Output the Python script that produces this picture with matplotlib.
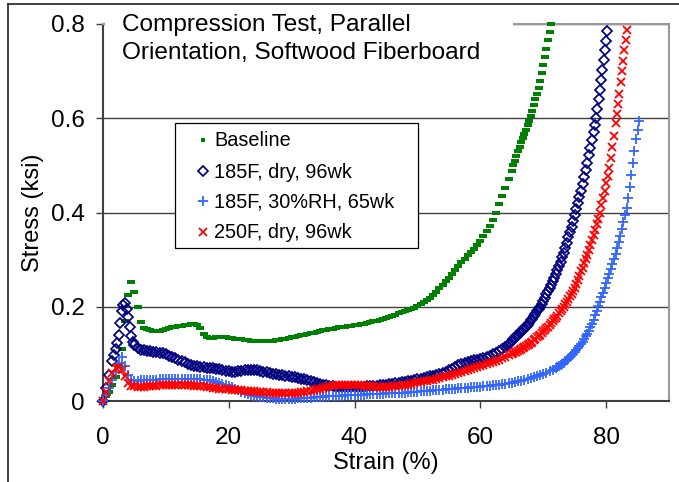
import matplotlib
matplotlib.use('Agg')
import matplotlib.pyplot as plt
from matplotlib.path import Path
from matplotlib.lines import Line2D
from matplotlib.patches import Rectangle

plt.rcParams['font.family'] = ['Liberation Sans', 'DejaVu Sans']

# ---------------- data (strain %, stress ksi) ----------------
base_strain = [0, 0.5, 1, 1.5, 2, 2.5, 3, 3.5, 4, 4.5,
               5, 5.5, 6, 6.5, 7, 7.5, 8, 8.5, 9, 9.5,
               10, 10.5, 11, 11.5, 12, 12.5, 13, 13.5, 14, 14.5,
               15, 15.5, 16, 16.5, 17, 17.5, 18, 18.5, 19, 19.5,
               20, 20.5, 21, 21.5, 22, 22.5, 23, 23.5, 24, 24.5,
               25, 25.5, 26, 26.5, 27, 27.5, 28, 28.5, 29, 29.5,
               30, 30.5, 31, 31.5, 32, 32.5, 33, 33.5, 34, 34.5,
               35, 35.5, 36, 36.5, 37, 37.5, 38, 38.5, 39, 39.5,
               40, 40.5, 41, 41.5, 42, 42.5, 43, 43.5, 44, 44.5,
               45, 45.5, 46, 46.5, 47, 47.5, 48, 48.5, 49, 49.5,
               50, 50.5, 51, 51.5, 52, 52.5, 53, 53.5, 54, 54.5,
               55, 55.5, 56, 56.5, 57, 57.5, 58, 58.5, 59, 59.5,
               60, 60.5, 61, 61.5, 62, 62.5, 63, 63.5, 64, 64.5,
               65, 65.25, 65.5, 65.75, 66, 66.25, 66.5, 66.75, 67, 67.25,
               67.5, 67.75, 68, 68.25, 68.5, 68.75, 69, 69.25, 69.5, 69.75,
               70, 70.25, 70.5, 70.75, 71, 71.25]
base_stress = [0.0, 0.010, 0.020, 0.035, 0.050, 0.075, 0.11, 0.17, 0.225, 0.253,
               0.232, 0.20, 0.168, 0.155, 0.152, 0.150, 0.149, 0.148, 0.148, 0.150,
               0.152, 0.154, 0.156, 0.158, 0.160, 0.160, 0.161, 0.162, 0.163, 0.163,
               0.162, 0.155, 0.142, 0.136, 0.134, 0.134, 0.135, 0.136, 0.136, 0.135,
               0.134, 0.133, 0.132, 0.131, 0.131, 0.130, 0.129, 0.128, 0.128, 0.127,
               0.127, 0.127, 0.127, 0.127, 0.128, 0.129, 0.130, 0.131, 0.132, 0.133,
               0.135, 0.136, 0.138, 0.139, 0.141, 0.142, 0.144, 0.145, 0.147, 0.148,
               0.150, 0.151, 0.152, 0.153, 0.155, 0.156, 0.157, 0.158, 0.159, 0.160,
               0.161, 0.162, 0.163, 0.164, 0.166, 0.167, 0.169, 0.170, 0.172, 0.174,
               0.176, 0.178, 0.181, 0.183, 0.186, 0.188, 0.191, 0.193, 0.196, 0.198,
               0.201, 0.205, 0.210, 0.214, 0.219, 0.225, 0.232, 0.239, 0.247, 0.254,
               0.262, 0.270, 0.278, 0.286, 0.294, 0.302, 0.310, 0.316, 0.323, 0.331,
               0.340, 0.350, 0.360, 0.372, 0.385, 0.400, 0.418, 0.435, 0.453, 0.471,
               0.489, 0.500, 0.510, 0.520, 0.530, 0.540, 0.550, 0.558, 0.567, 0.576,
               0.586, 0.595, 0.605, 0.616, 0.628, 0.640, 0.652, 0.664, 0.678, 0.695,
               0.712, 0.730, 0.748, 0.766, 0.784, 0.800]

dry185_strain = [0, 0.5, 1, 1.5, 1.75, 2, 2.25, 2.5, 2.75, 3,
                 3.25, 3.5, 3.75, 4, 4.25, 4.5, 4.75, 5, 5.5, 6,
                 6.5, 7, 7.5, 8, 8.5, 9, 9.5, 10, 10.5, 11,
                 11.5, 12, 12.5, 13, 13.5, 14, 14.5, 15, 15.5, 16,
                 16.5, 17, 17.5, 18, 18.5, 19, 19.5, 20, 20.5, 21,
                 21.5, 22, 22.5, 23, 23.5, 24, 24.5, 25, 25.5, 26,
                 26.5, 27, 27.5, 28, 28.5, 29, 29.5, 30, 30.5, 31,
                 31.5, 32, 32.5, 33, 33.5, 34, 34.5, 35, 35.5, 36,
                 36.5, 37, 37.5, 38, 38.5, 39, 39.5, 40, 40.5, 41,
                 41.5, 42, 42.5, 43, 43.5, 44, 44.5, 45, 45.5, 46,
                 46.5, 47, 47.5, 48, 48.5, 49, 49.5, 50, 50.5, 51,
                 51.5, 52, 52.5, 53, 53.5, 54, 54.5, 55, 55.5, 56,
                 56.5, 57, 57.5, 58, 58.5, 59, 59.5, 60, 60.5, 61,
                 61.5, 62, 62.5, 63, 63.5, 64,
                 64.25, 64.5, 64.75, 65, 65.25, 65.5, 65.75, 66, 66.25, 66.5,
                 66.75, 67, 67.25, 67.5, 67.75, 68, 68.25, 68.5, 68.75, 69,
                 69.25, 69.5, 69.75, 70, 70.25, 70.5, 70.75, 71, 71.25, 71.5,
                 71.75, 72, 72.25, 72.5, 72.75, 73, 73.25, 73.5, 73.75, 74,
                 74.25, 74.5, 74.75, 75, 75.25, 75.5, 75.75, 76, 76.25, 76.5,
                 76.75, 77, 77.25, 77.5, 77.75, 78, 78.2, 78.4, 78.6, 78.8,
                 79, 79.2, 79.4, 79.6, 79.8, 80, 80.2]
dry185_stress = [0.0, 0.027, 0.055, 0.085, 0.097, 0.11, 0.123, 0.14, 0.165, 0.19,
                 0.203, 0.207, 0.195, 0.178, 0.158, 0.138, 0.126, 0.119, 0.112, 0.109,
                 0.108, 0.107, 0.106, 0.105, 0.104, 0.102, 0.101, 0.099, 0.096, 0.093,
                 0.091, 0.088, 0.085, 0.082, 0.079, 0.077, 0.075, 0.074, 0.073, 0.072,
                 0.071, 0.070, 0.069, 0.068, 0.067, 0.066, 0.064, 0.063, 0.062, 0.062,
                 0.063, 0.064, 0.065, 0.066, 0.066, 0.066, 0.065, 0.064, 0.062, 0.061,
                 0.059, 0.058, 0.057, 0.056, 0.055, 0.054, 0.052, 0.051, 0.050, 0.049,
                 0.047, 0.046, 0.044, 0.043, 0.041, 0.039, 0.037, 0.035, 0.033, 0.032,
                 0.031, 0.030, 0.029, 0.029, 0.029, 0.029, 0.029, 0.030, 0.030, 0.030,
                 0.030, 0.031, 0.031, 0.032, 0.032, 0.033, 0.034, 0.035, 0.036, 0.037,
                 0.038, 0.039, 0.040, 0.041, 0.042, 0.043, 0.044, 0.046, 0.047, 0.049,
                 0.050, 0.052, 0.054, 0.056, 0.058, 0.060, 0.062, 0.065, 0.068, 0.072,
                 0.076, 0.079, 0.081, 0.083, 0.085, 0.087, 0.088, 0.090, 0.092, 0.094,
                 0.096, 0.099, 0.102, 0.106, 0.110, 0.114,
                 0.117, 0.120, 0.124, 0.127, 0.131, 0.134, 0.138, 0.141, 0.145, 0.148,
                 0.151, 0.154, 0.158, 0.162, 0.166, 0.171, 0.175, 0.180, 0.185, 0.190,
                 0.195, 0.200, 0.206, 0.213, 0.219, 0.226, 0.233, 0.240, 0.247, 0.254,
                 0.262, 0.270, 0.278, 0.287, 0.296, 0.305, 0.315, 0.325, 0.336, 0.347,
                 0.358, 0.370, 0.382, 0.395, 0.407, 0.420, 0.433, 0.446, 0.460, 0.475,
                 0.490, 0.505, 0.521, 0.537, 0.553, 0.570, 0.585, 0.600, 0.620, 0.640,
                 0.660, 0.681, 0.703, 0.724, 0.744, 0.763, 0.785]

rh185_strain = [0, 0.5, 1, 1.5, 2, 2.5, 3, 3.5, 4, 4.5,
                5, 5.5, 6, 6.5, 7, 7.5, 8, 8.5, 9, 9.5,
                10, 10.5, 11, 11.5, 12, 12.5, 13, 13.5, 14, 14.5,
                15, 15.5, 16, 16.5, 17, 17.5, 18, 18.5, 19, 19.5,
                20, 20.5, 21, 21.5, 22, 22.5, 23, 23.5, 24, 24.5,
                25, 25.5, 26, 26.5, 27, 27.5, 28, 28.5, 29, 29.5,
                30, 30.5, 31, 31.5, 32, 32.5, 33, 33.5, 34, 34.5,
                35, 35.5, 36, 36.5, 37, 37.5, 38, 38.5, 39, 39.5,
                40, 40.5, 41, 41.5, 42, 42.5, 43, 43.5, 44, 44.5,
                45, 45.5, 46, 46.5, 47, 47.5, 48, 48.5, 49, 49.5,
                50, 50.5, 51, 51.5, 52, 52.5, 53, 53.5, 54, 54.5,
                55, 55.5, 56, 56.5, 57, 57.5, 58, 58.5, 59, 59.5,
                60, 60.5, 61, 61.5, 62, 62.5, 63, 63.5, 64, 64.5,
                65, 65.5, 66, 66.5, 67, 67.5, 68, 68.5, 69, 69.5,
                70, 70.5, 71, 71.5,
                72, 72.25, 72.5, 72.75, 73, 73.25, 73.5, 73.75, 74, 74.25,
                74.5, 74.75, 75, 75.25, 75.5, 75.75, 76, 76.25, 76.5, 76.75,
                77, 77.25, 77.5, 77.75, 78, 78.25, 78.5, 78.75, 79, 79.25,
                79.5, 79.75, 80, 80.25, 80.5, 80.75, 81, 81.25, 81.5, 81.75,
                82, 82.25, 82.5, 82.75, 83, 83.25, 83.5, 83.75, 84, 84.25,
                84.5, 84.75, 85, 85.25]
rh185_stress = [0.0, 0.012, 0.028, 0.045, 0.062, 0.080, 0.094, 0.075, 0.055, 0.044,
                0.043, 0.043, 0.044, 0.044, 0.045, 0.045, 0.045, 0.045, 0.046, 0.046,
                0.046, 0.046, 0.046, 0.046, 0.046, 0.046, 0.046, 0.046, 0.046, 0.046,
                0.046, 0.046, 0.045, 0.045, 0.044, 0.043, 0.041, 0.039, 0.037, 0.035,
                0.032, 0.029, 0.026, 0.023, 0.020, 0.017, 0.015, 0.013, 0.011, 0.010,
                0.009, 0.008, 0.007, 0.006, 0.006, 0.005, 0.005, 0.005, 0.005, 0.005,
                0.005, 0.005, 0.006, 0.006, 0.006, 0.007, 0.007, 0.008, 0.008, 0.009,
                0.009, 0.010, 0.010, 0.010, 0.010, 0.011, 0.011, 0.012, 0.012, 0.012,
                0.012, 0.013, 0.013, 0.013, 0.014, 0.014, 0.014, 0.015, 0.015, 0.015,
                0.016, 0.016, 0.016, 0.017, 0.017, 0.018, 0.018, 0.019, 0.019, 0.020,
                0.020, 0.021, 0.021, 0.022, 0.022, 0.023, 0.023, 0.024, 0.024, 0.025,
                0.025, 0.026, 0.026, 0.027, 0.027, 0.028, 0.028, 0.029, 0.029, 0.030,
                0.030, 0.031, 0.032, 0.032, 0.033, 0.034, 0.035, 0.036, 0.037, 0.038,
                0.039, 0.040, 0.042, 0.043, 0.045, 0.046, 0.048, 0.050, 0.052, 0.055,
                0.057, 0.060, 0.063, 0.066,
                0.070, 0.072, 0.074, 0.076, 0.079, 0.081, 0.084, 0.087, 0.090, 0.093,
                0.097, 0.100, 0.104, 0.108, 0.113, 0.117, 0.121, 0.126, 0.131, 0.137,
                0.143, 0.149, 0.156, 0.164, 0.172, 0.182, 0.192, 0.201, 0.210, 0.220,
                0.230, 0.240, 0.250, 0.260, 0.270, 0.280, 0.290, 0.301, 0.312, 0.324,
                0.337, 0.351, 0.365, 0.380, 0.395, 0.410, 0.430, 0.455, 0.480, 0.505,
                0.530, 0.555, 0.575, 0.595]

dry250_strain = [0, 0.5, 1, 1.5, 2, 2.5, 3, 3.5, 4, 4.5,
                 5, 5.5, 6, 6.5, 7, 7.5, 8, 8.5, 9, 9.5,
                 10, 10.5, 11, 11.5, 12, 12.5, 13, 13.5, 14, 14.5,
                 15, 15.5, 16, 16.5, 17, 17.5, 18, 18.5, 19, 19.5,
                 20, 20.5, 21, 21.5, 22, 22.5, 23, 23.5, 24, 24.5,
                 25, 25.5, 26, 26.5, 27, 27.5, 28, 28.5, 29, 29.5,
                 30, 30.5, 31, 31.5, 32, 32.5, 33, 33.5, 34, 34.5,
                 35, 35.5, 36, 36.5, 37, 37.5, 38, 38.5, 39, 39.5,
                 40, 40.5, 41, 41.5, 42, 42.5, 43, 43.5, 44, 44.5,
                 45, 45.5, 46, 46.5, 47, 47.5, 48, 48.5, 49, 49.5,
                 50, 50.5, 51, 51.5, 52, 52.5, 53, 53.5, 54, 54.5,
                 55, 55.5, 56, 56.5, 57, 57.5, 58, 58.5, 59, 59.5,
                 60, 60.5, 61, 61.5, 62, 62.5, 63, 63.5, 64, 64.5,
                 65, 65.25, 65.5, 65.75, 66, 66.25, 66.5, 66.75, 67, 67.25,
                 67.5, 67.75, 68, 68.25, 68.5, 68.75, 69, 69.25, 69.5, 69.75,
                 70, 70.25, 70.5, 70.75, 71, 71.25, 71.5, 71.75, 72, 72.25,
                 72.5, 72.75, 73, 73.25, 73.5, 73.75, 74, 74.25, 74.5, 74.75,
                 75, 75.25, 75.5, 75.75, 76, 76.25, 76.5, 76.75, 77, 77.25,
                 77.5, 77.75, 78, 78.25, 78.5, 78.75, 79, 79.25, 79.5, 79.75,
                 80, 80.25, 80.5, 80.75, 81, 81.25, 81.5, 81.7, 81.9, 82.1,
                 82.3, 82.5, 82.7, 82.9, 83.1, 83.3]
dry250_stress = [0.0, 0.020, 0.042, 0.060, 0.070, 0.073, 0.065, 0.052, 0.038, 0.032,
                 0.031, 0.030, 0.030, 0.030, 0.031, 0.031, 0.032, 0.032, 0.033, 0.033,
                 0.034, 0.034, 0.034, 0.034, 0.034, 0.034, 0.033, 0.033, 0.033, 0.032,
                 0.032, 0.031, 0.031, 0.030, 0.029, 0.028, 0.027, 0.026, 0.026, 0.025,
                 0.025, 0.024, 0.024, 0.023, 0.023, 0.022, 0.022, 0.021, 0.021, 0.020,
                 0.020, 0.019, 0.019, 0.018, 0.018, 0.017, 0.017, 0.017, 0.017, 0.017,
                 0.017, 0.017, 0.018, 0.019, 0.020, 0.021, 0.022, 0.023, 0.025, 0.026,
                 0.028, 0.030, 0.031, 0.032, 0.033, 0.033, 0.034, 0.034, 0.034, 0.034,
                 0.034, 0.033, 0.033, 0.032, 0.032, 0.031, 0.031, 0.030, 0.030, 0.030,
                 0.030, 0.030, 0.031, 0.031, 0.032, 0.033, 0.034, 0.035, 0.037, 0.038,
                 0.040, 0.041, 0.042, 0.043, 0.044, 0.045, 0.047, 0.048, 0.050, 0.052,
                 0.054, 0.056, 0.058, 0.060, 0.062, 0.064, 0.066, 0.068, 0.070, 0.072,
                 0.074, 0.076, 0.078, 0.080, 0.083, 0.085, 0.088, 0.091, 0.094, 0.097,
                 0.100, 0.102, 0.103, 0.105, 0.107, 0.109, 0.111, 0.113, 0.115, 0.117,
                 0.119, 0.121, 0.124, 0.126, 0.129, 0.132, 0.135, 0.138, 0.141, 0.144,
                 0.148, 0.151, 0.155, 0.158, 0.162, 0.165, 0.169, 0.173, 0.177, 0.181,
                 0.186, 0.190, 0.195, 0.200, 0.205, 0.210, 0.216, 0.222, 0.228, 0.234,
                 0.240, 0.248, 0.257, 0.266, 0.275, 0.283, 0.292, 0.301, 0.310, 0.320,
                 0.330, 0.341, 0.352, 0.363, 0.375, 0.387, 0.400, 0.415, 0.430, 0.446,
                 0.462, 0.478, 0.495, 0.515, 0.538, 0.563, 0.590, 0.610, 0.630, 0.652,
                 0.676, 0.700, 0.722, 0.745, 0.767, 0.787]

series_labels = ['Baseline', '185F, dry, 96wk', '185F, 30%RH, 65wk', '250F, dry, 96wk']
x_ticks = [0, 20, 40, 60, 80]
y_ticks = [0, 0.2, 0.4, 0.6, 0.8]
y_tick_labels = ['0', '0.2', '0.4', '0.6', '0.8']
title_lines = ['Compression Test, Parallel', 'Orientation, Softwood Fiberboard']

# ---------------- figure ----------------
W, H = 679, 482
fig = plt.figure(figsize=(W / 100, H / 100), dpi=100)
fig.patch.set_facecolor('white')


def fx(px):
    return px / W


def fy(py):
    return 1 - py / H


ax = fig.add_axes([fx(103), fy(401), fx(669) - fx(103), fy(24) - fy(401)])

dash = Path([(-1, -0.6), (1, -0.6), (1, 0.6), (-1, 0.6), (-1, -0.6)],
            [Path.MOVETO, Path.LINETO, Path.LINETO, Path.LINETO, Path.CLOSEPOLY])

GREEN, NAVY, BLUE, RED = '#008000', '#000080', '#3366FF', '#FF0000'

styles = [
    dict(marker=dash, markersize=5.2, color=GREEN, markeredgewidth=0),
    dict(marker='D', markersize=4.6, markerfacecolor='none', markeredgecolor=NAVY, markeredgewidth=1.25),
    dict(marker='+', markersize=7.4, color=BLUE, markeredgewidth=1.3),
    dict(marker='x', markersize=6.3, color=RED, markeredgewidth=1.3),
]
data = [(base_strain, base_stress), (dry185_strain, dry185_stress),
        (rh185_strain, rh185_stress), (dry250_strain, dry250_stress)]

for (xs, ys), st, lab in zip(data, styles, series_labels):
    ax.plot(xs, ys, linestyle='none', clip_on=False, label=lab, zorder=3, **st)

ax.set_xlim(0, 90)
ax.set_ylim(0, 0.8)
ax.set_xticks(x_ticks)
ax.set_yticks(y_ticks)
ax.set_yticklabels(y_tick_labels)
ax.yaxis.grid(True, color='#404040', linewidth=1.0)
ax.set_axisbelow(True)
ax.tick_params(axis='both', direction='out', length=5, width=1, colors='#404040',
               labelcolor='black', labelsize=17.5)
ax.tick_params(axis='x', pad=14)
ax.tick_params(axis='y', pad=8)
for side in ['left', 'bottom']:
    ax.spines[side].set_color('#404040')
    ax.spines[side].set_linewidth(1.5)
for side in ['top', 'right']:
    ax.spines[side].set_color('#999999')
    ax.spines[side].set_linewidth(1.5)

ax.set_xlabel('Strain (%)', fontsize=17, labelpad=2)
ax.set_ylabel('Stress (ksi)', fontsize=17, labelpad=5)

# title box covering the top-left of the plot
fig.add_artist(Rectangle((fx(104.5), fy(28)), fx(513) - fx(104.5), fy(5) - fy(28),
                         transform=fig.transFigure, facecolor='white', edgecolor='none', zorder=4))
fig.text(fx(122), fy(31), title_lines[0], fontsize=17.6, va='baseline', ha='left', zorder=5)
fig.text(fx(122), fy(58.5), title_lines[1], fontsize=17.6, va='baseline', ha='left', zorder=5)

# legend box
fig.add_artist(Rectangle((fx(175), fy(248)), fx(418) - fx(175), fy(123) - fy(248),
                         transform=fig.transFigure, facecolor='white', edgecolor='black',
                         linewidth=0.9, zorder=4))
leg_base = [146.5, 177.5, 208, 238.5]
leg_styles = [
    dict(marker='s', markersize=2.6, color=GREEN, markeredgewidth=0),
    styles[1], styles[2], styles[3],
]
for lab, st, yb in zip(series_labels, leg_styles, leg_base):
    fig.add_artist(Line2D([fx(203)], [fy(yb - 6.8)], linestyle='none', transform=fig.transFigure,
                          zorder=5, **st))
    fig.text(fx(214), fy(yb), lab, fontsize=14.3, va='baseline', ha='left', zorder=5)

# outer frame (left and top edges)
fig.add_artist(Line2D([fx(7.5), fx(7.5)], [fy(3.5), fy(482)], color='#303030', linewidth=1.3,
                      transform=fig.transFigure))
fig.add_artist(Line2D([fx(7.5), fx(679)], [fy(3.5), fy(3.5)], color='#303030', linewidth=1.3,
                      transform=fig.transFigure))

fig.savefig('out.png', dpi=100)
